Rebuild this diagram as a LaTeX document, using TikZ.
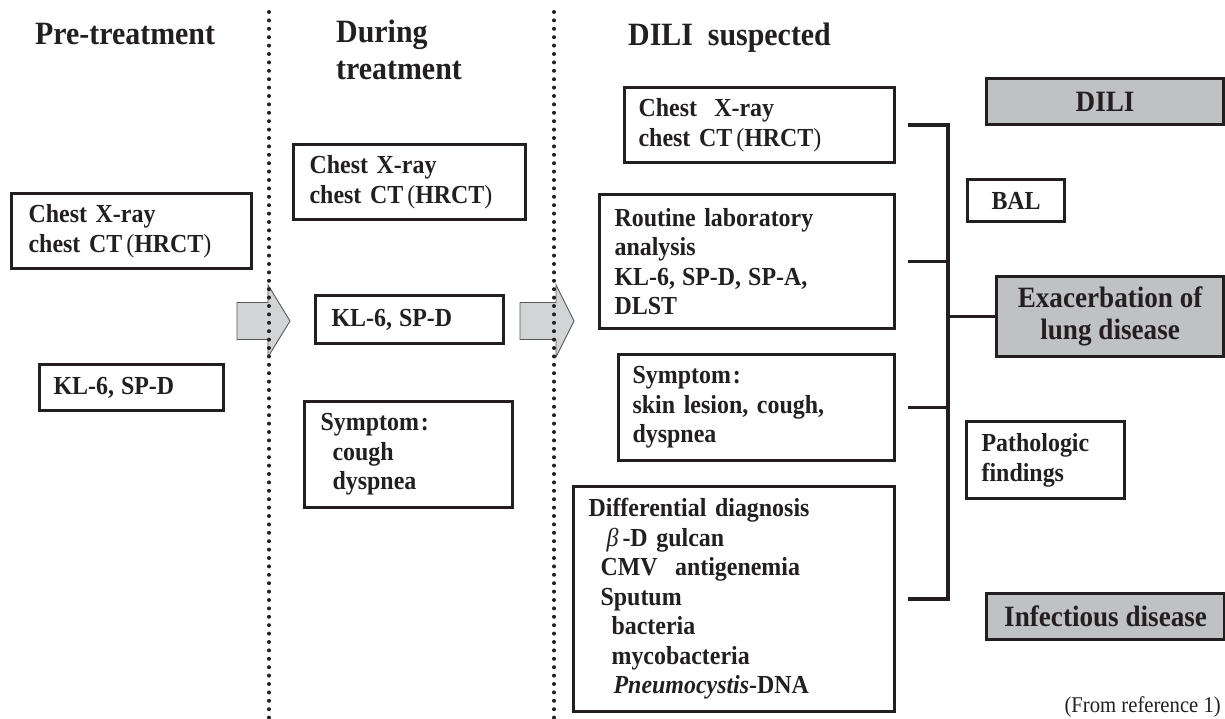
\documentclass[tikz,border=0pt]{standalone}
\usepackage{fontspec}
\setmainfont{Liberation Serif}[FakeStretch=0.92]
\definecolor{ink}{HTML}{231F20}
\definecolor{verdict}{HTML}{C0C1C3}
\definecolor{flow}{HTML}{D2D4D6}
\definecolor{flowline}{HTML}{58595B}
\newcommand{\bodyfont}{\fontsize{26}{29.5}\selectfont\bfseries}
\newcommand{\headfont}{\fontsize{32.5}{37}\selectfont\bfseries}
\newcommand{\verdictfont}{\fontsize{29.5}{32}\selectfont\bfseries}
\newcommand{\paren}[1]{\hspace{4pt}{\mdseries(}#1{\mdseries)}}
\newcommand{\jsep}{,\hspace{7pt}}
\tikzset{
  card/.style={draw=ink, line width=3.2pt, fill=white, inner ysep=0pt, align=left, text=ink, font=\bodyfont},
  verdictbox/.style={card, fill=verdict, align=center, font=\verdictfont},
  link/.style={draw=ink, line width=3.4pt},
  phaseline/.style={ink, line width=4pt, line cap=round, dash pattern=on 0pt off 8.4pt},
  head/.style={anchor=north west, inner sep=0pt, align=left, font=\headfont, text=ink},
}
\newcommand{\card}[7]{%
  \pgfmathsetmacro{\cardtw}{#4-2*#6}%
  \node[card, anchor=north west, minimum width=#4pt, minimum height=#5pt,
        inner xsep=#6pt, text width=\cardtw pt] (#1) at (#2,#3) {#7};}
\newcommand{\verdict}[6]{%
  \node[verdictbox, anchor=north west, minimum width=#4pt, minimum height=#5pt] (#1) at (#2,#3) {#6};}
\newcommand{\flowarrow}[5]{% name, tail x, head base x, tip x, centre y
  \draw[fill=flow, draw=flowline, line width=0.9pt, line join=miter]
    (#2,#5-18.5) -- (#3,#5-18.5) -- (#3,#5-36) -- (#4,#5) -- (#3,#5+36) -- (#3,#5+18.5) -- (#2,#5+18.5) -- cycle;
  \coordinate (#1) at (#4,#5);}

\begin{document}
\begin{tikzpicture}[x=1pt,y=-1pt]
\fill[white] (0,0) rectangle (1225,719);
\useasboundingbox (0,0) rectangle (1225,719);

% ---------- column heads
\node[head] (pre) at (35,23) {Pre-treatment};
\node[head] (during) at (336,20) {During\\treatment};
\node[head] (susp) at (628,23) {DILI\ \ suspected};

% ---------- pre-treatment
\card{pre1}{10}{192}{240}{75}{17}{Chest X-ray\\chest CT\paren{HRCT}}
\card{pre2}{38}{363}{184}{46}{14}{KL-6\jsep SP-D}

% ---------- during treatment
\card{dur1}{292}{143}{232}{75}{16}{Chest X-ray\\chest CT\paren{HRCT}}
\card{dur2}{314}{294}{188}{48}{16}{KL-6\jsep SP-D}
\card{dur3}{303}{400}{208}{106}{16}{Symptom\hspace{2pt}:\\\hspace*{12pt}cough\\\hspace*{12pt}dyspnea}

% ---------- DILI suspected
\card{sus1}{623}{86}{270}{75}{14}{Chest\ \ X-ray\\chest CT\paren{HRCT}}
\card{sus2}{598}{193}{295}{134}{15}{Routine laboratory\\analysis\\KL-6\jsep SP-D\jsep SP-A,\\DLST}
\card{sus3}{617}{353}{276}{106}{14}{Symptom\hspace{2pt}:\\skin lesion, cough,\\dyspnea}
\card{sus4}{572}{485}{321}{225}{15}{Differential diagnosis\\
  \hspace*{18pt}{\mdseries\itshape β}\hspace{4pt}-D gulcan\\
  \hspace*{12pt}CMV\ \ antigenemia\\
  \hspace*{12pt}Sputum\\
  \hspace*{23pt}bacteria\\
  \hspace*{23pt}mycobacteria\\
  \hspace*{25pt}\textit{Pneumocystis}-DNA}

% ---------- outcomes
\verdict{dili}{985}{77}{237}{46}{DILI}
\node[card, anchor=north west, minimum width=97pt, minimum height=42pt, align=center] (bal) at (966,178) {BAL};
\verdict{exa}{995}{275}{227}{80}{Exacerbation of\\lung disease}
\card{path}{965}{420}{158}{77}{15}{Pathologic\\findings}
\verdict{infect}{985}{592}{238}{46}{Infectious disease}

% ---------- bracket
\coordinate (spine) at (948,0);
\draw[link] ([xshift=12pt]sus1.east) -- (sus1.east -| spine) -- (sus4.east -| spine) -- ([xshift=12pt]sus4.east);
\draw[link] ([xshift=12pt]sus2.east) -- (sus2.east -| spine);
\draw[link] ([xshift=12pt]sus3.east) -- (sus3.east -| spine);
\draw[link] (exa.west -| spine) -- (exa.west);

% ---------- phase arrows and separators
\flowarrow{arr1}{237}{268}{290}{321}
\flowarrow{arr2}{520}{556}{574}{321}
\draw[phaseline] (269,12) -- (269,719);
\draw[phaseline] (554,12) -- (554,719);

\node[anchor=base east, inner sep=0pt, font=\fontsize{22.5}{25}\selectfont, text=ink] (source) at (1221,712) {(From reference 1)};

\end{tikzpicture}
\end{document}
